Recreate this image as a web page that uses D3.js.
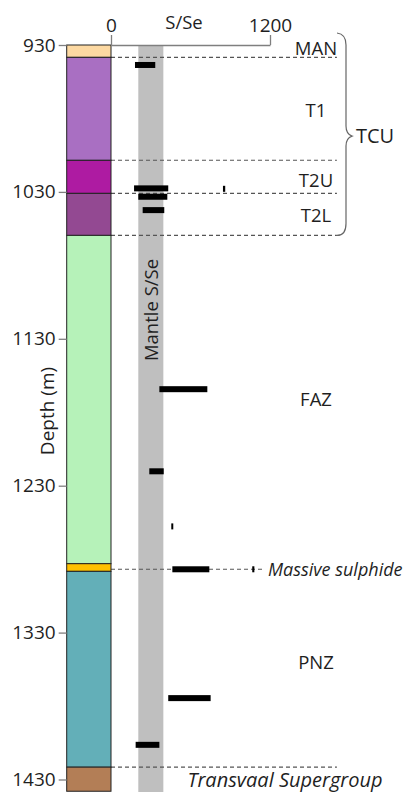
<!DOCTYPE html>
<html><head><meta charset="utf-8">
<script src="https://cdn.jsdelivr.net/npm/d3@7"></script>
<style>
body{margin:0;background:#fff;}
svg text{font-family:"Open Sans",sans-serif;fill:#1f1f1f;}
</style></head>
<body><svg id="c" width="403" height="792"></svg>
<script>
// ---- data ----
const layerNames  = ["MAN","T1","T2U","T2L","FAZ","Massive sulphide","PNZ","Transvaal Supergroup"];
const layerTop    = [930, 938.4, 1008.5, 1031, 1059.6, 1283.1, 1288.3, 1421.6];
const layerBottom = [938.4, 1008.5, 1031, 1059.6, 1283.1, 1288.3, 1421.6, 1438];
const layerColors = ["#FDD9A2","#A96FC2","#AE1BA2","#934992","#B6F2B9","#FFC000","#63AFB8","#B37E56"];

const depthTicks = [930, 1030, 1130, 1230, 1330, 1430];
const ssTicks = [0, 1200];

const mantleMin = 206, mantleMax = 395;

const sampleDepth = [943.6, 1027.6, 1033.3, 1042.4, 1027.9, 1164.3, 1220.2, 1257.7, 1286.9, 1286.9, 1374.6, 1406.4];
const sampleMin   = [181, 174, 206, 239, 845, 365, 289, 455, 463, 1066, 432, 186];
const sampleMax   = [334, 432, 425, 402, 862, 727, 398, 470, 742, 1082, 752, 365];

const boundaryDepths = [938.4, 1008.5, 1031, 1059.6, 1286.9, 1421.6];
const boundaryEnds   = [1705, 1705, 1705, 1705, 1140, 1705];

const unitLabels = ["MAN","T1","T2U","T2L","FAZ","PNZ"];
const unitLabelDepth = [932.7, 974.3, 1022, 1045.8, 1171.1, 1350.1];

// ---- scales ----
const svg = d3.select("#c");
const y = d3.scaleLinear().domain([930, 1430]).range([45, 779.5]);
const x = d3.scaleLinear().domain([0, 1200]).range([111, 270]);
const colLeft = 66.7;

// mantle band
svg.append("rect").attr("x", x(mantleMin)).attr("y", y(930))
  .attr("width", x(mantleMax) - x(mantleMin)).attr("height", 792 - y(930))
  .attr("fill", "#BFBFBF");

// dashed boundaries
svg.selectAll("line.b").data(boundaryDepths).join("line")
  .attr("x1", x(0)).attr("x2", (d,i) => x(boundaryEnds[i]))
  .attr("y1", d => y(d)).attr("y2", d => y(d))
  .attr("stroke", "#555").attr("stroke-width", 1.1).attr("stroke-dasharray", "4,3");

// stratigraphic column
svg.selectAll("rect.layer").data(layerNames).join("rect")
  .attr("x", colLeft).attr("width", x(0) - colLeft)
  .attr("y", (d,i) => y(layerTop[i]))
  .attr("height", (d,i) => y(layerBottom[i]) - y(layerTop[i]))
  .attr("fill", (d,i) => layerColors[i])
  .attr("stroke", "#222").attr("stroke-width", 1);

// samples
svg.selectAll("rect.s").data(sampleDepth).join("rect")
  .attr("x", (d,i) => x(sampleMin[i]))
  .attr("width", (d,i) => x(sampleMax[i]) - x(sampleMin[i]))
  .attr("y", d => y(d) - 3).attr("height", 6).attr("fill", "#000");

// top axis
const topAxis = d3.axisTop(x).tickValues(ssTicks).tickSize(10).tickSizeOuter(0).tickFormat(d3.format("d"));
const gT = svg.append("g").attr("transform", `translate(0,${y(930)})`).call(topAxis);
gT.select(".domain").attr("stroke", "#7f7f7f").attr("stroke-width", 1.3);
gT.selectAll(".tick line").attr("stroke", "#7f7f7f").attr("stroke-width", 1.3);
gT.selectAll(".tick text").attr("font-size", 19).attr("font-family", "Open Sans").attr("fill", "#1f1f1f");
svg.append("text").attr("x", 184).attr("y", 29).attr("text-anchor", "middle").attr("font-size", 18.5).text("S/Se");

// left axis
const leftAxis = d3.axisLeft(y).tickValues(depthTicks).tickSize(8).tickSizeOuter(0).tickPadding(3).tickFormat(d3.format("d"));
const gL = svg.append("g").attr("transform", `translate(${colLeft},0)`).call(leftAxis);
gL.select(".domain").remove();
gL.selectAll(".tick line").attr("stroke", "#7f7f7f").attr("stroke-width", 1.3);
gL.selectAll(".tick text").attr("font-size", 19).attr("font-family", "Open Sans").attr("fill", "#1f1f1f");
svg.append("text").attr("transform", "translate(54,411) rotate(-90)")
  .attr("text-anchor", "middle").attr("font-size", 19).text("Depth (m)");

svg.append("text").attr("transform", `translate(158,310) rotate(-90)`)
  .attr("text-anchor", "middle").attr("font-size", 18.5).text("Mantle S/Se");

// unit labels
svg.selectAll("text.u").data(unitLabels).join("text")
  .attr("x", 316).attr("y", (d,i) => y(unitLabelDepth[i]))
  .attr("dy", "0.35em").attr("text-anchor", "middle").attr("font-size", 18.5).text(d => d);

svg.append("text").attr("x", 268).attr("y", y(1286.9)).attr("dy", "0.35em")
  .attr("font-size", 18).attr("font-style", "italic").text("Massive sulphide");
svg.append("text").attr("x", 285).attr("y", y(1430)).attr("dy", "0.35em")
  .attr("text-anchor", "middle").attr("font-size", 20).attr("font-style", "italic").text("Transvaal Supergroup");

// brace
const bTop = 33, bMid = y(992), bBot = y(1059.6);
svg.append("path")
  .attr("d", `M337,${bTop} Q346,${bTop+1} 346,${bTop+12} L346,${bMid-10} Q346,${bMid-2} 352,${bMid} Q346,${bMid+2} 346,${bMid+10} L346,${bBot-12} Q346,${bBot} 337,${bBot}`)
  .attr("fill", "none").attr("stroke", "#666").attr("stroke-width", 1.2);
svg.append("text").attr("x", 356).attr("y", bMid).attr("dy", "0.35em")
  .attr("font-size", 20).text("TCU");
</script></body></html>
